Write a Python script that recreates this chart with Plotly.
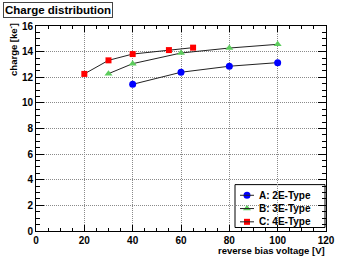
import plotly.graph_objects as go

# Data
volt_a = [40, 60, 80, 100]
charge_a = [11.45, 12.39, 12.86, 13.14]
volt_b = [30, 40, 60, 80, 100]
charge_b = [12.28, 13.06, 13.89, 14.28, 14.57]
volt_c = [20, 30, 40, 55, 65]
charge_c = [12.26, 13.32, 13.81, 14.12, 14.31]
names = ["A: 2E-Type", "B: 3E-Type", "C: 4E-Type"]

FONT = "Liberation Sans"
W, H = 363, 260
L, R, T, B = 36, 37, 26, 28.5
PW, PH = W - L - R, H - T - B

def px_x(p):
    return (p - L) / PW

def px_y(p):
    return (H - B - p) / PH

fig = go.Figure()
series = [
    (volt_a, charge_a, names[0], "#0000ff", "circle", 7),
    (volt_b, charge_b, names[1], "#5ccc5c", "triangle-up", 7),
    (volt_c, charge_c, names[2], "#ff0000", "square", 6),
]
for xs, ys, nm, col, sym, sz in series:
    fig.add_trace(go.Scatter(
        x=xs, y=ys, name=nm, mode="lines+markers",
        line=dict(color="#222222", width=1),
        marker=dict(color=col, symbol=sym, size=sz, line=dict(width=0)),
        showlegend=False,
    ))

# Hand-drawn legend (ROOT-style compact box)
leg_left, leg_right, leg_top, leg_bot = 235, 325, 185, 228
row_y = [195.7, 209.0, 222.3]
shapes = [dict(type="rect", xref="paper", yref="paper",
               x0=px_x(leg_left), x1=px_x(leg_right),
               y0=px_y(leg_bot), y1=px_y(leg_top),
               fillcolor="white", line=dict(color="black", width=1),
               layer="between")]
annotations = []
for (xs, ys, nm, col, sym, sz), ry in zip(series, row_y):
    shapes.append(dict(type="line", xref="paper", yref="paper",
                       x0=px_x(240), x1=px_x(254), y0=px_y(ry), y1=px_y(ry),
                       line=dict(color="#222222", width=1), layer="above"))
    annotations.append(dict(text=nm, xref="paper", yref="paper",
                            x=px_x(257), y=px_y(ry), xanchor="left", yanchor="middle",
                            showarrow=False,
                            font=dict(family=FONT, size=10, color="black", weight="bold")))
    fig.add_trace(go.Scatter(
        x=[247], y=[ry], xaxis="x2", yaxis="y2", mode="markers",
        marker=dict(color=col, symbol=sym, size=sz, line=dict(width=0)),
        showlegend=False, hoverinfo="skip",
    ))

axis_common = dict(
    showline=True, linecolor="black", linewidth=1, mirror="ticks",
    ticks="inside", tickcolor="black", tickwidth=1,
    showgrid=True, gridcolor="#8a8a8a", griddash="1px,1px", gridwidth=1,
    zeroline=False,
    tickfont=dict(family=FONT, size=10, color="black", weight="bold"),
)

fig.update_layout(
    xaxis=dict(range=[0, 120], tick0=0, dtick=20, ticklen=6,
               minor=dict(dtick=5, ticklen=3, ticks="inside", tickcolor="black", showgrid=False),
               **axis_common),
    yaxis=dict(range=[0, 16], tick0=0, dtick=2, ticklen=8,
               minor=dict(dtick=0.5, ticklen=4, ticks="inside", tickcolor="black", showgrid=False),
               **axis_common),
    xaxis2=dict(overlaying="x", range=[L, W - R], visible=False, fixedrange=True),
    yaxis2=dict(overlaying="y", range=[H - B, T], visible=False, fixedrange=True),
)

annotations += [
    dict(text="Charge distribution", xref="paper", yref="paper",
         x=px_x(3), y=px_y(2), xanchor="left", yanchor="top",
         showarrow=False, bordercolor="#444444", borderwidth=1, borderpad=1,
         bgcolor="white",
         font=dict(family=FONT, size=11.5, color="black", weight="bold")),
    dict(text="charge [ke<sup>-</sup>]", xref="paper", yref="paper",
         x=px_x(13), y=px_y(50), xanchor="center", yanchor="middle",
         textangle=-90, showarrow=False,
         font=dict(family=FONT, size=9.5, color="black", weight="bold")),
    dict(text="reverse bias voltage [V]", xref="paper", yref="paper",
         x=px_x(327), y=px_y(251.5), xanchor="right", yanchor="middle",
         showarrow=False,
         font=dict(family=FONT, size=9.5, color="black", weight="bold")),
]

fig.update_layout(
    width=W, height=H,
    margin=dict(l=L, r=R, t=T, b=B, autoexpand=False),
    paper_bgcolor="white", plot_bgcolor="white",
    showlegend=False,
    shapes=shapes,
    annotations=annotations,
)

fig.write_html("out.html", config={"displayModeBar": False},
               post_script="document.body.style.margin='0';document.body.style.padding='0';")
